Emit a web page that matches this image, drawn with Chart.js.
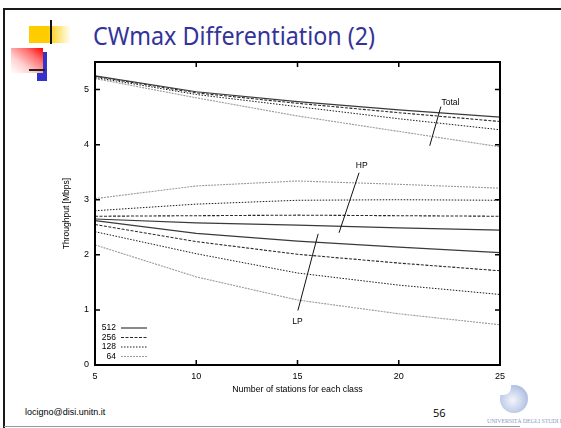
<!DOCTYPE html>
<html>
<head>
<meta charset="utf-8">
<script src="https://cdn.jsdelivr.net/npm/chart.js"></script>
<style>
  html, body { margin:0; padding:0; background:#fff; }
  body { width:561px; height:428px; position:relative; overflow:hidden; font-family:"Liberation Sans", Arial, sans-serif; }
  .abs { position:absolute; }
  #chart { position:absolute; left:0; top:0; }
  #title { left:93px; top:19px; font-family:"Noto Sans", "DejaVu Sans", sans-serif; font-size:26px; color:#333399; white-space:nowrap; transform-origin:left top; line-height:32px; }
</style>
</head>
<body>
<!-- slide frame -->
<div class="abs" style="left:3px;top:8px;width:558px;height:2px;background:#1a1a1a"></div>
<div class="abs" style="left:3px;top:8px;width:2px;height:420px;background:#1a1a1a"></div>
<div class="abs" style="left:4px;top:426px;width:516px;height:1px;background:#9a9a9a"></div>
<!-- decoration -->
<div class="abs" style="left:29px;top:26px;width:42px;height:17px;background:linear-gradient(to right,#ffcc00 0%,#ffcc00 44%,rgba(255,204,0,0) 100%)"></div>
<div class="abs" style="left:37px;top:52px;width:10px;height:29px;background:#3333cc"></div>
<div class="abs" style="left:11px;top:48px;width:32px;height:25px;background:linear-gradient(to bottom left,#ff0000 0%,#ff7070 30%,#ffd0d0 65%,#ffffff 100%)"></div>
<div class="abs" style="left:47px;top:43px;width:26px;height:9px;background:#fff"></div>
<div class="abs" style="left:50px;top:20px;width:2px;height:24px;background:#111"></div>
<div class="abs" style="left:29px;top:69px;width:16px;height:1.5px;background:#222"></div>
<div id="title" class="abs">CWmax Differentiation (2)</div>
<!-- footer -->
<div class="abs" style="left:25px;top:407px;font-size:9px;color:#000;white-space:nowrap">locigno@disi.unitn.it</div>
<div class="abs" style="left:433px;top:405px;font-size:11px;color:#000;font-family:'Open Sans',sans-serif">56</div>
<div class="abs" style="left:500px;top:385px;width:28px;height:28px;border-radius:50%;background:radial-gradient(circle at 45% 55%,#f2f5fb 0%,#c5d0ea 50%,#93a6d4 100%)"></div>
<div class="abs" style="left:498px;top:383px;width:13px;height:12px;background:#fff;border-radius:0 0 60% 0"></div>
<div class="abs" style="left:487px;top:418px;width:74px;overflow:hidden;white-space:nowrap;font-family:'Liberation Serif',serif;font-size:6px;color:#8a9cc8;letter-spacing:-0.15px">UNIVERSITÀ DEGLI STUDI DI TRENTO</div>

<canvas id="chart" width="561" height="428"></canvas>
<script>
// ---- data ----
const stations = [5, 10, 15, 20, 25];
const cwLabels = ['512', '256', '128', '64'];
const total512 = [5.25, 4.96, 4.78, 4.63, 4.50];
const total256 = [5.24, 4.94, 4.75, 4.58, 4.42];
const total128 = [5.22, 4.91, 4.69, 4.47, 4.27];
const total64  = [5.20, 4.85, 4.52, 4.24, 3.96];
const hp512 = [2.65, 2.58, 2.54, 2.49, 2.45];
const hp256 = [2.70, 2.71, 2.72, 2.71, 2.70];
const hp128 = [2.80, 2.92, 2.99, 3.00, 2.99];
const hp64  = [3.02, 3.25, 3.34, 3.28, 3.21];
const lp512 = [2.62, 2.39, 2.25, 2.14, 2.04];
const lp256 = [2.55, 2.24, 2.01, 1.85, 1.71];
const lp128 = [2.42, 2.02, 1.67, 1.45, 1.28];
const lp64  = [2.18, 1.60, 1.18, 0.93, 0.73];
const xTicks = [5, 10, 15, 20, 25];
const yTicks = [0, 1, 2, 3, 4, 5];
// annotation: label, label pos, pointer line from -> to (data units)
const annotations = [
  { text: 'Total', at: [22.55, 4.76], from: [22.08, 4.69], to: [21.53, 3.98] },
  { text: 'HP',    at: [18.17, 3.61], from: [18.04, 3.49], to: [17.05, 2.40] },
  { text: 'LP',    at: [15.0, 0.79], from: [15.02, 0.99], to: [16.02, 2.38] }
];

// ---- styles per CW value ----
const styles = {
  '512': { color: '#3a3a3a', dash: [], width: 1.2 },
  '256': { color: '#2a2a2a', dash: [3, 1.5], width: 1.1 },
  '128': { color: '#1a1a1a', dash: [1.5, 1.5], width: 1.0 },
  '64':  { color: '#9a9a9a', dash: [2, 1], width: 1.1 }
};
const groups = [
  { name: 'Total', series: [total512, total256, total128, total64] },
  { name: 'HP',    series: [hp512, hp256, hp128, hp64] },
  { name: 'LP',    series: [lp512, lp256, lp128, lp64] }
];
const datasets = [];
groups.forEach(g => {
  g.series.forEach((vals, i) => {
    const st = styles[cwLabels[i]];
    datasets.push({
      label: g.name + ' ' + cwLabels[i],
      data: stations.map((x, k) => ({ x: x, y: vals[k] })),
      borderColor: st.color, borderDash: st.dash, borderWidth: st.width,
      pointRadius: 0, fill: false, tension: 0
    });
  });
});

const FONT = '"Liberation Sans", Arial, sans-serif';

const framePlugin = {
  id: 'frame',
  afterDatasetsDraw(chart) {
    const { ctx, chartArea: a, scales: { x, y } } = chart;
    ctx.save();
    // inward ticks on all sides
    ctx.strokeStyle = '#000'; ctx.lineWidth = 1.5;
    xTicks.forEach(v => {
      const px = x.getPixelForValue(v);
      ctx.beginPath();
      ctx.moveTo(px, a.bottom); ctx.lineTo(px, a.bottom - 5);
      ctx.moveTo(px, a.top); ctx.lineTo(px, a.top + 5);
      ctx.stroke();
    });
    yTicks.forEach(v => {
      const py = y.getPixelForValue(v);
      ctx.beginPath();
      ctx.moveTo(a.left, py); ctx.lineTo(a.left + 5, py);
      ctx.moveTo(a.right, py); ctx.lineTo(a.right - 5, py);
      ctx.stroke();
    });
    // frame
    ctx.lineWidth = 2; ctx.strokeStyle = '#000';
    ctx.strokeRect(a.left, a.top, a.right - a.left, a.bottom - a.top);
    // annotations
    ctx.lineWidth = 1; ctx.strokeStyle = '#111'; ctx.setLineDash([]);
    ctx.fillStyle = '#000'; ctx.font = '8.5px ' + FONT;
    ctx.textAlign = 'center'; ctx.textBaseline = 'middle';
    annotations.forEach(an => {
      ctx.beginPath();
      ctx.moveTo(x.getPixelForValue(an.from[0]), y.getPixelForValue(an.from[1]));
      ctx.lineTo(x.getPixelForValue(an.to[0]), y.getPixelForValue(an.to[1]));
      ctx.stroke();
      ctx.fillText(an.text, x.getPixelForValue(an.at[0]), y.getPixelForValue(an.at[1]));
    });
    // legend
    ctx.textAlign = 'right';
    cwLabels.forEach((lab, i) => {
      const st = styles[lab];
      const ty = a.bottom - 37 + i * 9.5;
      ctx.fillStyle = '#000';
      ctx.fillText(lab, a.left + 21, ty);
      ctx.beginPath();
      ctx.setLineDash(st.dash); ctx.strokeStyle = st.color; ctx.lineWidth = st.width;
      ctx.moveTo(a.left + 26, ty); ctx.lineTo(a.left + 52, ty);
      ctx.stroke();
    });
    ctx.restore();
  }
};

new Chart(document.getElementById('chart'), {
  type: 'line',
  data: { datasets },
  options: {
    responsive: false, animation: false,
    layout: { padding: { left: 62, top: 62, right: 61, bottom: 33 } },
    plugins: { legend: { display: false }, tooltip: { enabled: false } },
    scales: {
      x: {
        type: 'linear', min: 5, max: 25,
        afterBuildTicks: s => { s.ticks = xTicks.map(v => ({ value: v })); },
        afterFit: s => { s.height = 30; },
        grid: { display: false, drawTicks: false }, border: { display: false },
        ticks: { color: '#000', font: { family: FONT, size: 9 }, padding: 6, maxRotation: 0 },
        title: { display: true, text: 'Number of stations for each class', color: '#000', font: { family: FONT, size: 8.8 }, padding: 0 }
      },
      y: {
        min: 0, max: 5.5,
        afterBuildTicks: s => { s.ticks = yTicks.map(v => ({ value: v })); },
        afterFit: s => { s.width = 33; },
        grid: { display: false, drawTicks: false }, border: { display: false },
        ticks: { color: '#000', font: { family: FONT, size: 9 }, padding: 6 },
        title: { display: true, text: 'Throughput [Mbps]', color: '#000', font: { family: FONT, size: 8.5 }, padding: 0 }
      }
    }
  },
  plugins: [framePlugin]
});

// fit title width to the slide's heading
const t = document.getElementById('title');
const w = t.getBoundingClientRect().width;
t.style.transform = 'scaleX(' + (282 / w) + ')';
</script>
</body>
</html>
